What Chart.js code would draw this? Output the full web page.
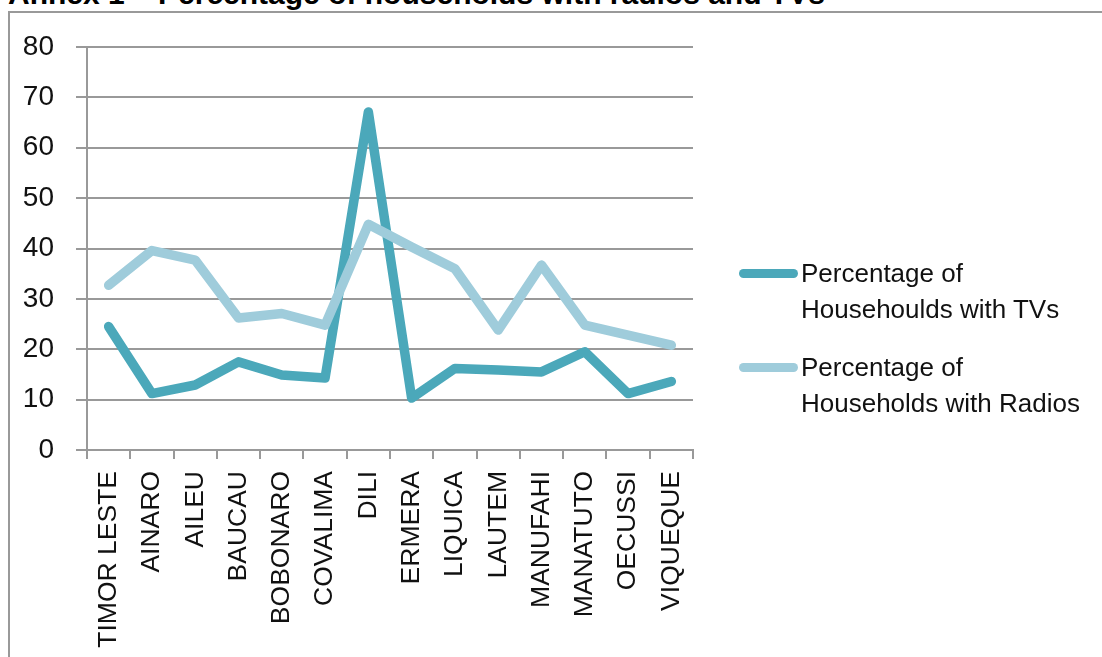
<!DOCTYPE html>
<html>
<head>
<meta charset="utf-8">
<script src="https://cdn.jsdelivr.net/npm/chart.js@4.4.0/dist/chart.umd.min.js"></script>
<style>
    html, body { margin: 0; padding: 0; background: #fff; overflow: hidden; }
    body { width: 1102px; height: 657px; position: relative; font-family: "Liberation Sans", Arial, sans-serif; }
    #title { position: absolute; left: 8px; top: -21px; font-weight: bold; font-size: 30px; line-height: 30px; color: #000; white-space: nowrap; }
    #frame { position: absolute; left: 8px; top: 11px; width: 1200px; height: 800px; border: 2px solid #999; }
    #wrap { position: absolute; left: 0; top: 0; width: 1102px; height: 657px; }
    .legend-item { position: absolute; left: 739px; }
    .legend-item .swatch { position: absolute; left: 0; width: 59px; height: 9px; border-radius: 5px; }
    .legend-item .text { position: absolute; left: 62px; font-size: 26px; line-height: 36px; color: #111; white-space: nowrap; }
</style>
</head>
<body>
<div id="title">Annex 1 – Percentage of households with radios and TVs</div>
<div id="frame"></div>
<div id="wrap"><canvas id="lineChart"></canvas></div>
<div id="legend"></div>
<script>
// 데이터
const districts = ['TIMOR LESTE', 'AINARO', 'AILEU', 'BAUCAU', 'BOBONARO', 'COVALIMA', 'DILI',
    'ERMERA', 'LIQUICA', 'LAUTEM', 'MANUFAHI', 'MANATUTO', 'OECUSSI', 'VIQUEQUE'];
const tvValues = [24.5, 11.2, 12.9, 17.5, 14.9, 14.3, 67.1, 10.3, 16.2, 15.9, 15.5, 19.5, 11.2, 13.6];
const radioValues = [32.7, 39.6, 37.7, 26.2, 27.1, 24.8, 44.8, 40.3, 36.0, 23.8, 36.7, 24.8, 22.8, 20.8];
const yTicks = [0, 10, 20, 30, 40, 50, 60, 70, 80];
const seriesNames = [
    ['Percentage of', 'Househoulds with TVs'],
    ['Percentage of', 'Households with Radios']
];
const tvColor = '#4ba8ba';
const radioColor = '#9fccdb';
const gridColor = '#999999';

// 범례 (HTML)
const legendTops = [255, 349];
const legendColors = [tvColor, radioColor];
seriesNames.forEach(function(lines, i) {
    const item = document.createElement('div');
    item.className = 'legend-item';
    item.style.top = legendTops[i] + 'px';
    item.innerHTML = '<div class="swatch" style="top:14px;background:' + legendColors[i] + '"></div>' +
        '<div class="text" style="top:0">' + lines.join('<br>') + '</div>';
    document.getElementById('legend').appendChild(item);
});

// 차트 생성
const ctx = document.getElementById('lineChart').getContext('2d');
const lineChart = new Chart(ctx, {
    type: 'line',
    data: {
        labels: districts,
        datasets: [{
            label: seriesNames[0].join(' '),
            data: tvValues,
            borderColor: tvColor,
            backgroundColor: tvColor,
            borderWidth: 9.5,
            borderCapStyle: 'round',
            borderJoinStyle: 'round',
            pointRadius: 0,
            tension: 0,
            order: 1
        }, {
            label: seriesNames[1].join(' '),
            data: radioValues,
            borderColor: radioColor,
            backgroundColor: radioColor,
            borderWidth: 9.5,
            borderCapStyle: 'round',
            borderJoinStyle: 'round',
            pointRadius: 0,
            tension: 0,
            order: 0
        }]
    },
    options: {
        responsive: true,
        maintainAspectRatio: false,
        animation: false,
        layout: {
            padding: { top: 47, right: 409, bottom: 0, left: 0 }
        },
        plugins: {
            legend: { display: false },
            tooltip: { enabled: false }
        },
        scales: {
            x: {
                offset: true,
                grid: {
                    offset: true,
                    drawOnChartArea: false,
                    drawTicks: true,
                    tickLength: 9,
                    color: gridColor,
                    lineWidth: 2
                },
                border: { display: true, color: gridColor, width: 2 },
                ticks: {
                    autoSkip: false,
                    minRotation: 90,
                    maxRotation: 90,
                    padding: 12,
                    color: '#111',
                    font: { family: '"Liberation Sans", Arial, sans-serif', size: 26.5 }
                },
                afterFit: function(scale) { scale.height = 657 - 450; }
            },
            y: {
                min: 0,
                max: 80,
                afterBuildTicks: function(scale) {
                    scale.ticks = yTicks.map(v => ({ value: v }));
                },
                grid: {
                    color: gridColor,
                    lineWidth: 2,
                    drawTicks: true,
                    tickLength: 11
                },
                border: { display: true, color: gridColor, width: 2 },
                ticks: {
                    padding: 22,
                    color: '#111',
                    font: { family: '"Liberation Sans", Arial, sans-serif', size: 28 }
                },
                afterFit: function(scale) { scale.width = 87; }
            }
        }
    }
});
</script>
</body>
</html>
